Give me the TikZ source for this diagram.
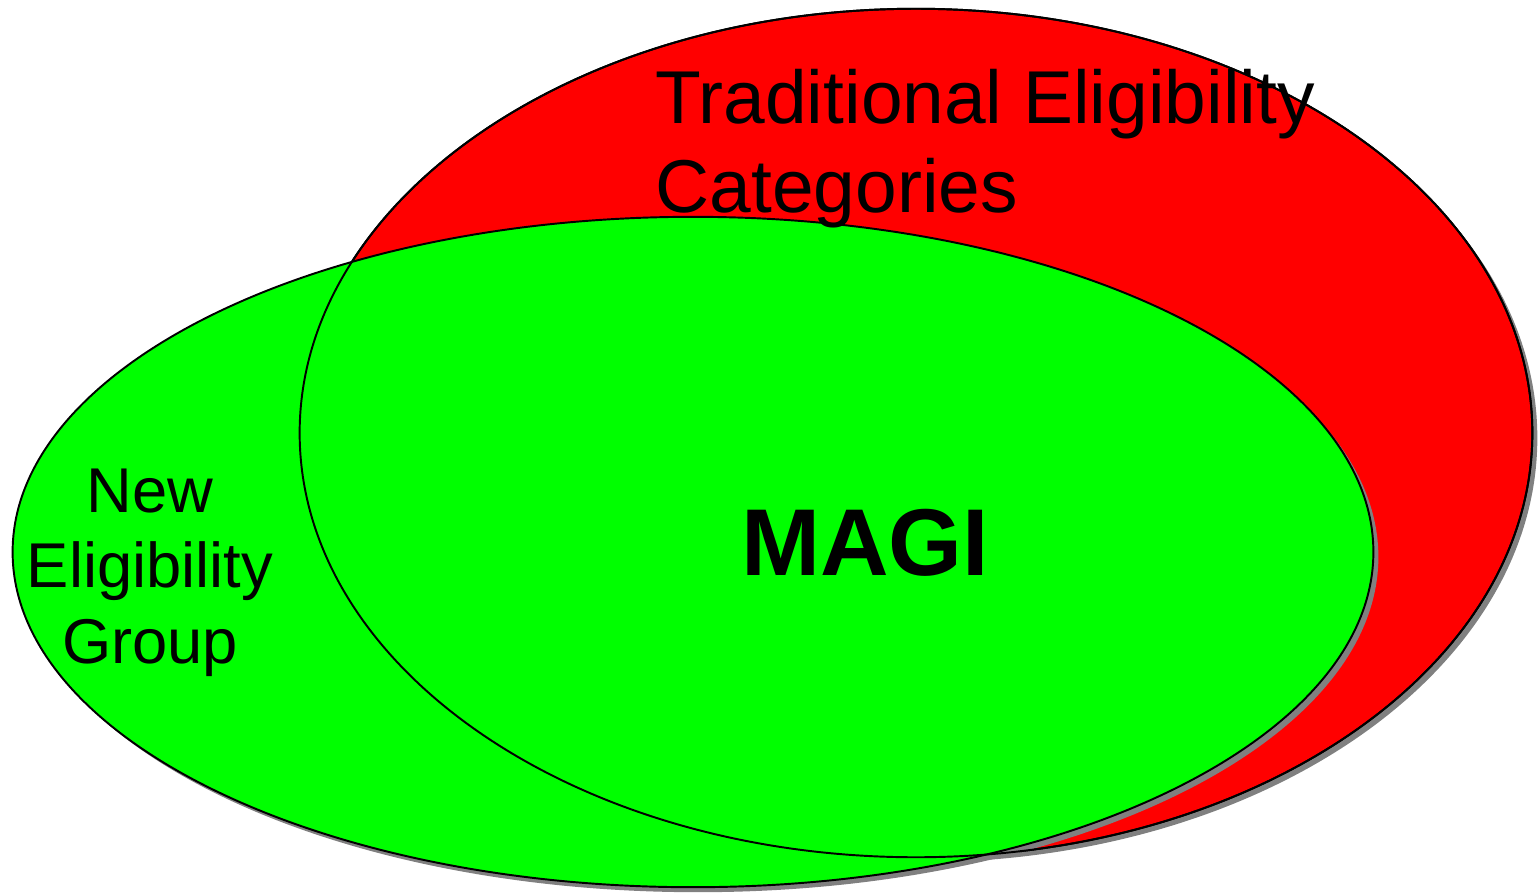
\documentclass[tikz,border=0pt]{standalone}
\usepackage{fontspec}
\setmainfont{Liberation Sans}

\begin{document}
\begin{tikzpicture}[x=0.01cm,y=-0.01cm,
	venn/.style={draw=black,line width=0.55pt},
	shade/.style={fill=gray},
	redset/.style={x radius=6.16cm,y radius=4.24cm},
	greenset/.style={x radius=6.80cm,y radius=3.35cm}]
		\useasboundingbox (0,0) rectangle (1538,893);
		
		\fill[shade] (921,438) ellipse [redset];
		\filldraw[venn,fill=red] (916,433) ellipse [redset];
		\fill[shade] (698,557) ellipse [greenset];
		\filldraw[venn,fill=green] (693,552) ellipse [greenset];
		\draw[venn] (916,433) ellipse [redset];
		
		\node[anchor=base west,align=left,inner sep=0pt,font=\fontsize{21.3}{25.2}\selectfont] (trad) at (655,212) {Traditional Eligibility\\Categories};
		\node[anchor=base,align=center,inner sep=0pt,font=\fontsize{18}{21.4}\selectfont] (newgrp) at (150,663) {New\\Eligibility\\Group};
		\node[anchor=base,inner sep=0pt,font=\fontsize{27}{32}\selectfont\bfseries] (magi) at (865,575) {MAGI};
	\end{tikzpicture}
\end{document}
